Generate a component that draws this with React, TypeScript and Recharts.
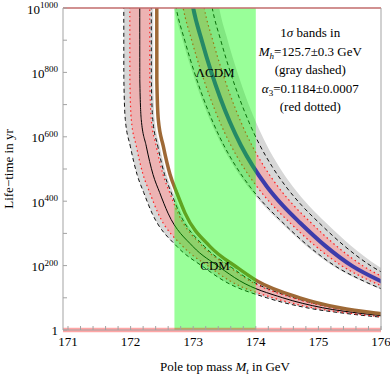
import React from 'react';
import { ComposedChart, Area, Line, XAxis, YAxis, ReferenceArea, ReferenceLine, ReferenceDot } from 'recharts';

const FONT = '"Liberation Serif", "Times New Roman", Times, serif';

// pole top mass axis (GeV), major + minor ticks
const mtTicks = [171, 171.2, 171.4, 171.6, 171.8, 172, 172.2, 172.4, 172.6, 172.8, 173, 173.2, 173.4, 173.6, 173.8, 174, 174.2, 174.4, 174.6, 174.8, 175, 175.2, 175.4, 175.6, 175.8, 176];
// life-time exponent, log10(tau / yr)
const lifeTicks = [0, 100, 200, 300, 400, 500, 600, 700, 800, 900, 1000];
const mtDomain = [170.92, 176];

// measured top mass band
const mtBand = [172.7, 174.0];

// Lambda-CDM curves [Mt, log10 tau], 1300 = off the top of the plot
const lcdmGrayHi = [[170.92, 1300], [173.309, 1130], [173.412, 1003], [173.555, 897], [173.699, 804], [173.843, 723], [174.003, 645], [174.178, 573], [174.37, 508], [174.594, 445], [174.849, 386], [175.121, 333], [175.52, 262], [175.952, 199], [176.399, 153], [176.905, 112]];
const lcdmDashHi = [[170.92, 1300], [173.198, 1130], [173.301, 1003], [173.444, 897], [173.588, 804], [173.732, 723], [173.892, 645], [174.067, 573], [174.259, 508], [174.483, 445], [174.738, 386], [175.01, 333], [175.409, 262], [175.841, 199], [176.288, 153], [176.794, 112]];
const lcdmRedHi = [[170.92, 1300], [173.07, 1130], [173.173, 1003], [173.316, 897], [173.46, 804], [173.604, 723], [173.764, 645], [173.939, 573], [174.131, 508], [174.355, 445], [174.61, 386], [174.882, 333], [175.281, 262], [175.713, 199], [176.16, 153], [176.666, 112]];
const lcdmMid = [[170.92, 1300], [172.894, 1130], [172.997, 1003], [173.14, 897], [173.284, 804], [173.428, 723], [173.588, 645], [173.763, 573], [173.955, 508], [174.179, 445], [174.434, 386], [174.706, 333], [175.105, 262], [175.537, 199], [175.984, 153], [176.49, 112]];
const lcdmRedLo = [[170.92, 1300], [172.734, 1130], [172.837, 1003], [172.98, 897], [173.124, 804], [173.268, 723], [173.428, 645], [173.603, 573], [173.795, 508], [174.019, 445], [174.274, 386], [174.546, 333], [174.945, 262], [175.377, 199], [175.824, 153], [176.33, 112]];
const lcdmDashLo = [[170.92, 1300], [172.622, 1130], [172.725, 1003], [172.868, 897], [173.012, 804], [173.156, 723], [173.316, 645], [173.491, 573], [173.683, 508], [173.907, 445], [174.162, 386], [174.434, 333], [174.833, 262], [175.265, 199], [175.712, 153], [176.218, 112]];
const lcdmGrayLo = [[170.92, 1300], [172.59, 1130], [172.693, 1003], [172.836, 897], [172.98, 804], [173.124, 723], [173.284, 645], [173.459, 573], [173.651, 508], [173.875, 445], [174.13, 386], [174.402, 333], [174.801, 262], [175.233, 199], [175.68, 153], [176.186, 112]];

// CDM curves
const cdmBrown = [[170.92, 1300], [172.417, 1300], [172.419, 779], [172.442, 654], [172.522, 571], [172.63, 483], [172.736, 427], [172.869, 363], [173.269, 259], [173.695, 195], [174.014, 153], [174.703, 100], [175.342, 69], [175.981, 51], [176.569, 39]];
const cdmGrayHi = [[170.92, 1300], [172.361, 1300], [172.363, 779], [172.386, 654], [172.466, 571], [172.574, 483], [172.68, 427], [172.813, 363], [173.213, 259], [173.639, 195], [173.958, 153], [174.647, 100], [175.286, 69], [175.925, 51], [176.513, 39]];
const cdmDashHi = [[170.92, 1300], [172.329, 1300], [172.331, 779], [172.354, 654], [172.434, 571], [172.542, 483], [172.648, 427], [172.781, 363], [173.181, 259], [173.607, 195], [173.926, 153], [174.615, 100], [175.254, 69], [175.893, 51], [176.481, 39]];
const cdmRedHi = [[170.92, 1300], [172.305, 1300], [172.307, 779], [172.33, 654], [172.41, 571], [172.518, 483], [172.624, 427], [172.757, 363], [173.157, 259], [173.583, 195], [173.902, 153], [174.591, 100], [175.23, 69], [175.869, 51], [176.457, 39]];
const cdmMid = [[170.92, 1300], [172.145, 1300], [172.147, 779], [172.17, 654], [172.25, 571], [172.358, 483], [172.464, 427], [172.597, 363], [172.997, 259], [173.423, 195], [173.742, 153], [174.431, 100], [175.07, 69], [175.709, 51], [176.297, 39]];
const cdmRedLo = [[170.92, 1300], [171.986, 1300], [171.988, 779], [172.011, 654], [172.091, 571], [172.199, 483], [172.305, 427], [172.438, 363], [172.838, 259], [173.264, 195], [173.583, 153], [174.272, 100], [174.911, 69], [175.55, 51], [176.138, 39]];
const cdmDashLo = [[170.92, 1300], [171.89, 1300], [171.892, 779], [171.915, 654], [171.995, 571], [172.103, 483], [172.209, 427], [172.342, 363], [172.742, 259], [173.168, 195], [173.487, 153], [174.176, 100], [174.815, 69], [175.454, 51], [176.042, 39]];

// text anchors [Mt, log10 tau]
const lcdmLabelAt = [173.35, 800];
const cdmLabelAt = [173.35, 199];
const notesAt = [174.87, 925];

const pts = (arr: number[][]) => arr.map(([m, e]) => ({ m, e }));

const GRAY = '#d7d7d7';
const PINK = '#edb3b3';
const FRAME = '#a3a3a3';
const RED = '#ff1f1f';
const txt = { fontSize: 13, fontFamily: FONT, fill: '#000', style: { fontFamily: FONT } };

const XTick = (props: any) => {
  const v = props.payload.value;
  if (Math.abs(v - Math.round(v)) > 1e-6) return <g />;
  return (
    <text x={props.x} y={props.y + 20} textAnchor="middle" {...txt}>
      {Math.round(v)}
    </text>
  );
};

const YTick = (props: any) => {
  const v = props.payload.value;
  if (v % 200 !== 0) return <g />;
  if (v === 0) {
    return (
      <text x={props.x} y={props.y + 4.5} textAnchor="end" {...txt}>1</text>
    );
  }
  return (
    <text x={props.x} y={props.y + 5.5} textAnchor="end" {...txt}>
      10<tspan dy={-5.5} fontSize={9}>{v}</tspan>
    </text>
  );
};

const XTitle = (props: any) => {
  const vb = props.viewBox;
  return (
    <text x={vb.x + vb.width / 2 + 3} y={vb.y + 41} textAnchor="middle" {...txt}>
      Pole top mass <tspan fontStyle="italic">M</tspan>
      <tspan dy={3} fontSize={9} fontStyle="italic">t</tspan>
      <tspan dy={-3}> in GeV</tspan>
    </text>
  );
};

const YTitle = (props: any) => {
  const vb = props.viewBox;
  const cy = vb.y + vb.height / 2;
  return (
    <text x={13} y={cy} transform={`rotate(-90 13 ${cy})`} textAnchor="middle" {...txt}>
      Life−time in yr
    </text>
  );
};

const centerText = (s: string) => (props: any) => {
  const vb = props.viewBox;
  return (
    <text x={vb.x} y={vb.y + 4.5} textAnchor="middle" {...txt}>{s}</text>
  );
};

const Notes = (props: any) => {
  const vb = props.viewBox;
  const x = vb.x;
  const y = vb.y;
  const t = { textAnchor: 'middle' as const, ...txt };
  return (
    <g>
      <text x={x} y={y + 4.5} {...t}>1<tspan fontStyle="italic">σ</tspan> bands in</text>
      <text x={x} y={y + 23.5} {...t}>
        <tspan fontStyle="italic">M</tspan>
        <tspan dy={3} fontSize={9} fontStyle="italic">h</tspan>
        <tspan dy={-3}>=125.7±0.3 GeV</tspan>
      </text>
      <text x={x} y={y + 42} {...t}>(gray dashed)</text>
      <text x={x} y={y + 60.5} {...t}>
        <tspan fontStyle="italic">α</tspan>
        <tspan dy={3} fontSize={9}>3</tspan>
        <tspan dy={-3}>=0.1184±0.0007</tspan>
      </text>
      <text x={x} y={y + 78.5} {...t}>(red dotted)</text>
    </g>
  );
};

const ax = { xAxisId: 'x', yAxisId: 'y' };

export default function App() {
  return (
    <div style={{ position: 'absolute', left: 0, top: 0, width: 390, height: 376, background: '#fff', fontFamily: FONT }}>
      <ComposedChart width={390} height={376} margin={{ top: 7, right: 8, bottom: 0, left: 0 }} style={{ fontFamily: FONT }}>
        <XAxis xAxisId="x" dataKey="m" type="number" domain={mtDomain} allowDataOverflow ticks={mtTicks} interval={0}
          height={46} tickSize={-4} tickMargin={0} stroke={FRAME} tick={XTick} label={XTitle} />
        <XAxis xAxisId="xt" orientation="top" dataKey="m" type="number" domain={mtDomain} allowDataOverflow ticks={mtTicks}
          interval={0} height={1} tickSize={-4} tick={false} stroke={FRAME} />
        <YAxis yAxisId="y" dataKey="e" type="number" domain={[0, 1000]} allowDataOverflow ticks={lifeTicks} interval={0}
          width={63} tickSize={-4} tickMargin={9} stroke={FRAME} tick={YTick} label={YTitle} />
        <YAxis yAxisId="yr" orientation="right" type="number" domain={[0, 1000]} allowDataOverflow ticks={lifeTicks}
          interval={0} width={1} tickSize={-4} tick={false} stroke={FRAME} />

        {/* Lambda-CDM bands */}
        <Area {...ax} data={pts(lcdmGrayHi)} dataKey="e" type="monotone" stroke="none" fill={GRAY} fillOpacity={1} isAnimationActive={false} />
        <Area {...ax} data={pts(lcdmRedHi)} dataKey="e" type="monotone" stroke="none" fill={PINK} fillOpacity={1} isAnimationActive={false} />
        <Area {...ax} data={pts(lcdmRedLo)} dataKey="e" type="monotone" stroke="none" fill={GRAY} fillOpacity={1} isAnimationActive={false} />
        <Area {...ax} data={pts(lcdmGrayLo)} dataKey="e" type="monotone" stroke="none" fill="#fff" fillOpacity={1} isAnimationActive={false} />
        {/* CDM bands */}
        <Area {...ax} data={pts(cdmGrayHi)} dataKey="e" type="monotone" stroke="none" fill={GRAY} fillOpacity={1} isAnimationActive={false} />
        <Area {...ax} data={pts(cdmRedHi)} dataKey="e" type="monotone" stroke="none" fill={PINK} fillOpacity={1} isAnimationActive={false} />
        <Area {...ax} data={pts(cdmRedLo)} dataKey="e" type="monotone" stroke="none" fill={GRAY} fillOpacity={1} isAnimationActive={false} />
        <Area {...ax} data={pts(cdmDashLo)} dataKey="e" type="monotone" stroke="none" fill="#fff" fillOpacity={1} isAnimationActive={false} />

        <Line {...ax} data={pts(lcdmDashHi)} dataKey="e" type="monotone" stroke="#111" strokeWidth={1} strokeDasharray="4 3" dot={false} activeDot={false} isAnimationActive={false} />
        <Line {...ax} data={pts(lcdmDashLo)} dataKey="e" type="monotone" stroke="#111" strokeWidth={1} strokeDasharray="4 3" dot={false} activeDot={false} isAnimationActive={false} />
        <Line {...ax} data={pts(lcdmRedHi)} dataKey="e" type="monotone" stroke={RED} strokeWidth={1.2} strokeDasharray="1.5 3" dot={false} activeDot={false} isAnimationActive={false} />
        <Line {...ax} data={pts(lcdmRedLo)} dataKey="e" type="monotone" stroke={RED} strokeWidth={1.2} strokeDasharray="1.5 3" dot={false} activeDot={false} isAnimationActive={false} />
        <Line {...ax} data={pts(lcdmMid)} dataKey="e" type="monotone" stroke="#3c3cab" strokeWidth={4} dot={false} activeDot={false} isAnimationActive={false} />

        <Line {...ax} data={pts(cdmDashHi)} dataKey="e" type="monotone" stroke="#111" strokeWidth={1} strokeDasharray="4 3" dot={false} activeDot={false} isAnimationActive={false} />
        <Line {...ax} data={pts(cdmDashLo)} dataKey="e" type="monotone" stroke="#111" strokeWidth={1} strokeDasharray="4 3" dot={false} activeDot={false} isAnimationActive={false} />
        <Line {...ax} data={pts(cdmRedHi)} dataKey="e" type="monotone" stroke={RED} strokeWidth={1.2} strokeDasharray="1.5 3" dot={false} activeDot={false} isAnimationActive={false} />
        <Line {...ax} data={pts(cdmRedLo)} dataKey="e" type="monotone" stroke={RED} strokeWidth={1.2} strokeDasharray="1.5 3" dot={false} activeDot={false} isAnimationActive={false} />
        <Line {...ax} data={pts(cdmMid)} dataKey="e" type="monotone" stroke="#000" strokeWidth={1} dot={false} activeDot={false} isAnimationActive={false} />
        <Line {...ax} data={pts(cdmBrown)} dataKey="e" type="monotone" stroke="#9e6936" strokeWidth={3.5} dot={false} activeDot={false} isAnimationActive={false} />

        <ReferenceArea {...ax} x1={mtBand[0]} x2={mtBand[1]} fill="#00ff00" fillOpacity={0.4} stroke="none" zIndex={450} />
        <ReferenceArea {...ax} y1={-7} y2={7} ifOverflow="visible" fill="#ff0000" fillOpacity={0.35} stroke="none" zIndex={460} />
        <ReferenceLine {...ax} y={1000} stroke="#ff0000" strokeOpacity={0.5} strokeWidth={2} zIndex={460} />

        <ReferenceDot {...ax} x={lcdmLabelAt[0]} y={lcdmLabelAt[1]} r={0} stroke="none" label={centerText('ΛCDM')} zIndex={470} />
        <ReferenceDot {...ax} x={cdmLabelAt[0]} y={cdmLabelAt[1]} r={0} stroke="none" label={centerText('CDM')} zIndex={470} />
        <ReferenceDot {...ax} x={notesAt[0]} y={notesAt[1]} r={0} stroke="none" label={Notes} zIndex={470} />
      </ComposedChart>
    </div>
  );
}
